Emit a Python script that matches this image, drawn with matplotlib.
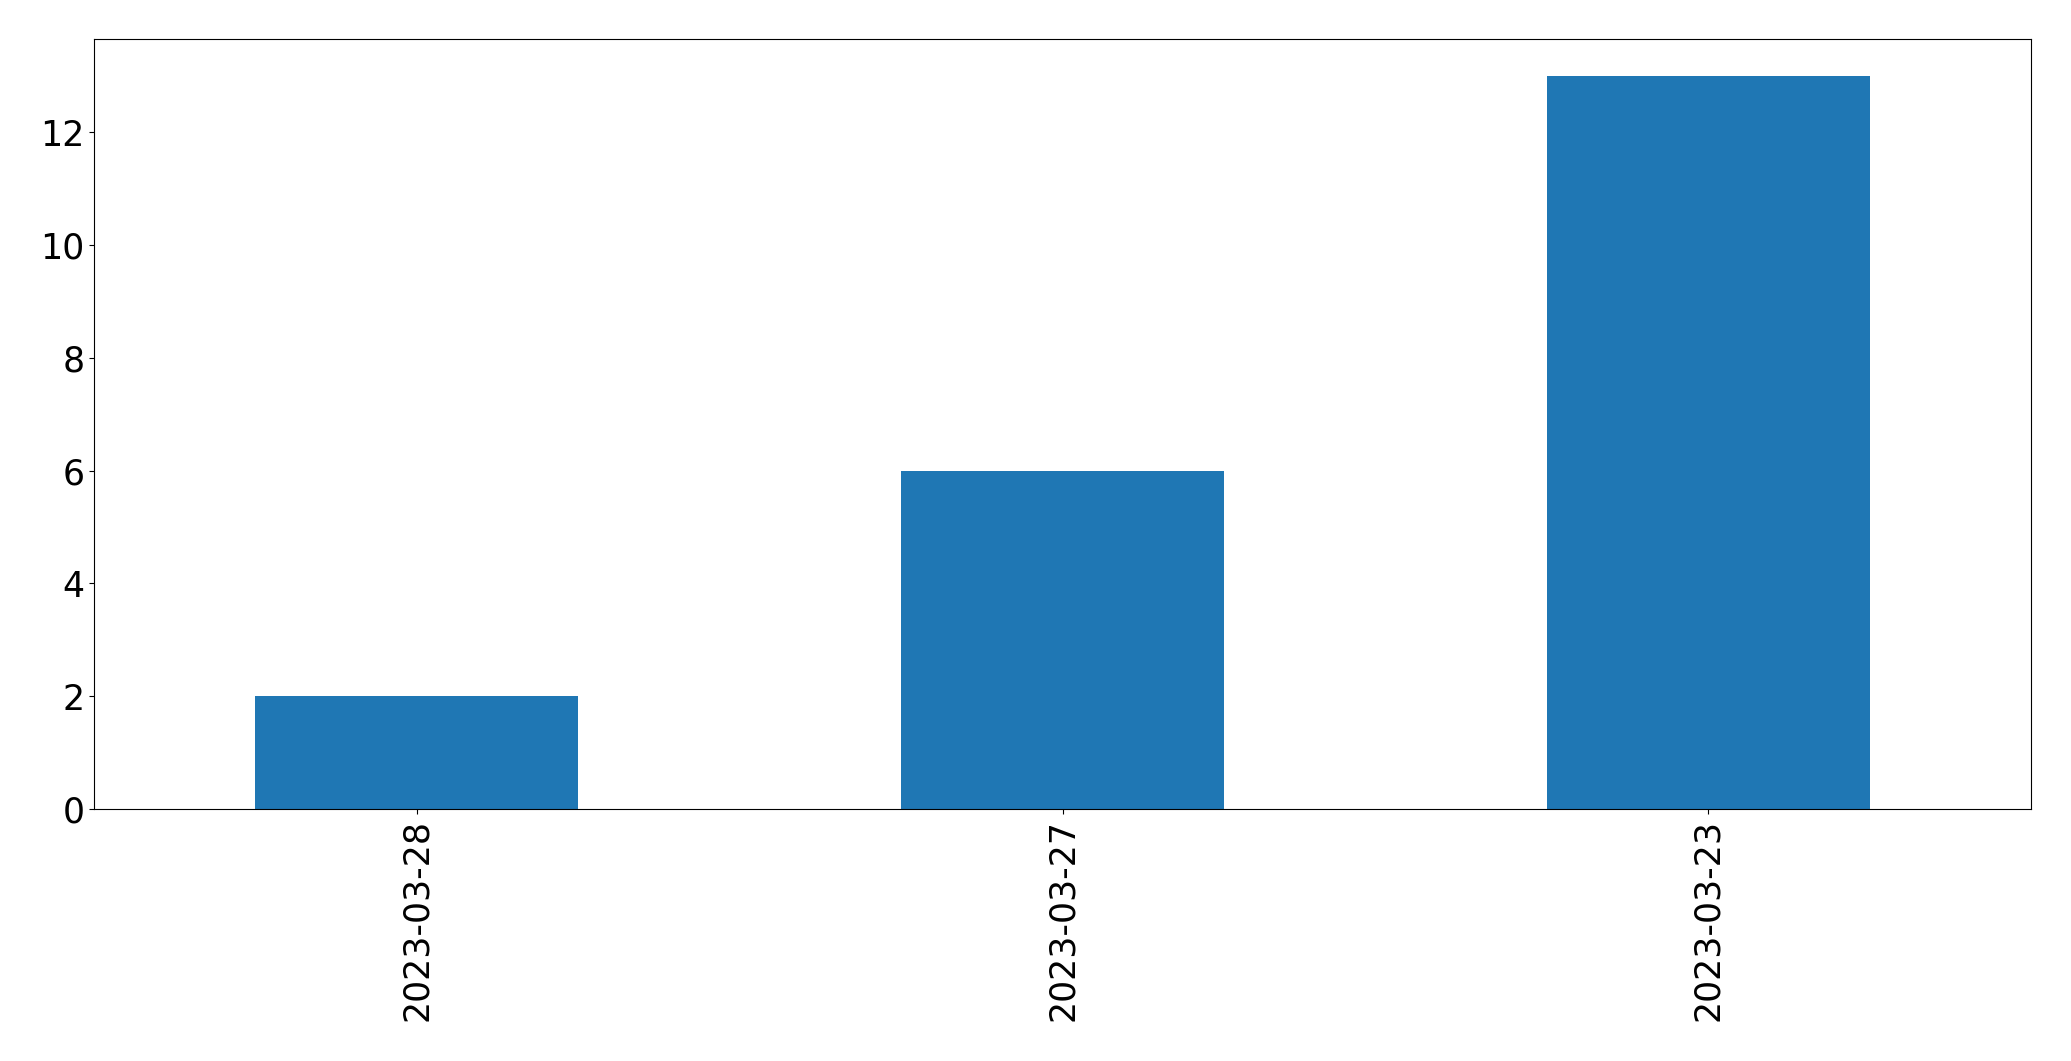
import matplotlib
matplotlib.use("Agg")
import matplotlib.pyplot as plt
import numpy as np

dates = ["2023-03-28", "2023-03-27", "2023-03-23"]
counts = [2, 6, 13]

fig, ax = plt.subplots(figsize=(20.71, 10.61), dpi=100)
fig.subplots_adjust(left=0.0454, right=0.9807, top=0.9632, bottom=0.2375)

x = np.arange(len(dates))
ax.bar(x, counts, width=0.5, color="#1f77b4")
ax.set_xlim(-0.5, len(dates) - 0.5)
ax.set_ylim(0, max(counts) * 1.05)
ax.set_xticks(x)
ax.set_xticklabels(dates, rotation=90)
ax.tick_params(labelsize=25)

fig.savefig("out.png", dpi=100)
